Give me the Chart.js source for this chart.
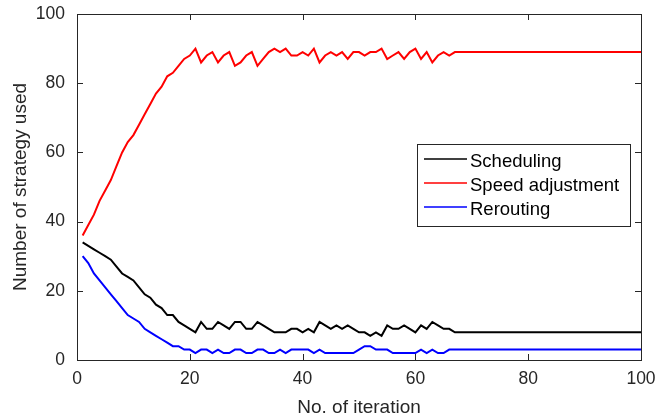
<!DOCTYPE html>
<html>
<head>
<meta charset="utf-8">
<script src="https://cdn.jsdelivr.net/npm/chart.js@4.4.1/dist/chart.umd.min.js"></script>
<style>
  html, body { margin: 0; padding: 0; background: #ffffff; }
  #wrap { width: 655px; height: 419px; position: relative; }
</style>
</head>
<body>
<div id="wrap"><canvas id="chart" width="655" height="419"></canvas></div>
<script>
// Strategy usage counts per iteration (iterations 1..100)
const seriesNames = ['Scheduling', 'Speed adjustment', 'Rerouting'];
const seriesColors = ['#000000', '#ff0000', '#0000ff'];

const scheduling = [
  34, 33, 32, 31, 30, 29, 27, 25, 24, 23,
  21, 19, 18, 16, 15, 13, 13, 11, 10, 9,
  8, 11, 9, 9, 11, 10, 9, 11, 11, 9,
  9, 11, 10, 9, 8, 8, 8, 9, 9, 8,
  9, 8, 11, 10, 9, 10, 9, 10, 9, 8,
  8, 7, 8, 7, 10, 9, 9, 10, 9, 8,
  10, 9, 11, 10, 9, 9, 8, 8, 8, 8,
  8, 8, 8, 8, 8, 8, 8, 8, 8, 8,
  8, 8, 8, 8, 8, 8, 8, 8, 8, 8,
  8, 8, 8, 8, 8, 8, 8, 8, 8, 8
];

const speedAdjustment = [
  36, 39, 42, 46, 49, 52, 56, 60, 63, 65,
  68, 71, 74, 77, 79, 82, 83, 85, 87, 88,
  90, 86, 88, 89, 86, 88, 89, 85, 86, 88,
  89, 85, 87, 89, 90, 89, 90, 88, 88, 89,
  88, 90, 86, 88, 89, 88, 89, 87, 89, 89,
  88, 89, 89, 90, 87, 88, 89, 87, 89, 90,
  87, 89, 86, 88, 89, 88, 89, 89, 89, 89,
  89, 89, 89, 89, 89, 89, 89, 89, 89, 89,
  89, 89, 89, 89, 89, 89, 89, 89, 89, 89,
  89, 89, 89, 89, 89, 89, 89, 89, 89, 89
];

const rerouting = [
  30, 28, 25, 23, 21, 19, 17, 15, 13, 12,
  11, 9, 8, 7, 6, 5, 4, 4, 3, 3,
  2, 3, 3, 2, 3, 2, 2, 3, 3, 2,
  2, 3, 3, 2, 2, 3, 2, 3, 3, 3,
  3, 2, 3, 2, 2, 2, 2, 2, 2, 3,
  4, 4, 3, 3, 3, 2, 2, 2, 2, 2,
  3, 2, 3, 2, 2, 3, 3, 3, 3, 3,
  3, 3, 3, 3, 3, 3, 3, 3, 3, 3,
  3, 3, 3, 3, 3, 3, 3, 3, 3, 3,
  3, 3, 3, 3, 3, 3, 3, 3, 3, 3
];

const iterations = scheduling.map((_, i) => i + 1);
const xTicks = [0, 20, 40, 60, 80, 100];
const yTicks = [0, 20, 40, 60, 80, 100];

const AXIS_COLOR = '#262626';
const FONT = '"Liberation Sans", Arial, sans-serif';

function toPoints(values) {
  return values.map((v, i) => ({ x: iterations[i], y: v }));
}

// Box around the plot area plus inward tick marks on all four sides
const boxAndTicks = {
  id: 'boxAndTicks',
  afterDatasetsDraw(chart) {
    const { ctx, chartArea: a, scales } = chart;
    ctx.save();
    ctx.strokeStyle = AXIS_COLOR;
    ctx.lineWidth = 1;
    ctx.strokeRect(Math.round(a.left) + 0.5, Math.round(a.top) + 0.5,
                   Math.round(a.right - a.left), Math.round(a.bottom - a.top));
    const len = 6;
    ctx.beginPath();
    xTicks.forEach(v => {
      const px = Math.round(scales.x.getPixelForValue(v)) + 0.5;
      ctx.moveTo(px, a.bottom); ctx.lineTo(px, a.bottom - len);
      ctx.moveTo(px, a.top); ctx.lineTo(px, a.top + len);
    });
    yTicks.forEach(v => {
      const py = Math.round(scales.y.getPixelForValue(v)) + 0.5;
      ctx.moveTo(a.left, py); ctx.lineTo(a.left + len, py);
      ctx.moveTo(a.right, py); ctx.lineTo(a.right - len, py);
    });
    ctx.stroke();
    ctx.restore();
  }
};

// Boxed legend inside the plot area
const boxedLegend = {
  id: 'boxedLegend',
  afterDraw(chart) {
    const { ctx } = chart;
    const x0 = 417, y0 = 144, w = 213, h = 82;
    const rowY = [161, 185, 209];
    ctx.save();
    ctx.fillStyle = '#ffffff';
    ctx.fillRect(x0, y0, w, h);
    ctx.strokeStyle = AXIS_COLOR;
    ctx.lineWidth = 1;
    ctx.strokeRect(x0 + 0.5, y0 + 0.5, w, h);
    ctx.font = '18.5px ' + FONT;
    ctx.textBaseline = 'middle';
    ctx.textAlign = 'left';
    chart.data.datasets.forEach((ds, i) => {
      const y = rowY[i];
      ctx.strokeStyle = ds.borderColor;
      ctx.lineWidth = 1.5;
      ctx.beginPath();
      ctx.moveTo(424, y - 2);
      ctx.lineTo(467, y - 2);
      ctx.stroke();
      ctx.fillStyle = '#000000';
      ctx.fillText(ds.label, 470, y + 1);
    });
    ctx.restore();
  }
};

new Chart(document.getElementById('chart'), {
  type: 'line',
  data: {
    datasets: [
      { label: seriesNames[0], data: toPoints(scheduling), borderColor: seriesColors[0] },
      { label: seriesNames[1], data: toPoints(speedAdjustment), borderColor: seriesColors[1] },
      { label: seriesNames[2], data: toPoints(rerouting), borderColor: seriesColors[2] }
    ].map(d => Object.assign(d, {
      borderWidth: 2,
      pointRadius: 0,
      tension: 0,
      fill: false
    }))
  },
  options: {
    responsive: false,
    animation: false,
    devicePixelRatio: 1,
    layout: { padding: { left: 0, right: 14, top: 14, bottom: 0 } },
    plugins: {
      legend: { display: false },
      tooltip: { enabled: false }
    },
    scales: {
      x: {
        type: 'linear',
        min: 0,
        max: 100,
        afterBuildTicks: s => { s.ticks = xTicks.map(v => ({ value: v })); },
        afterFit: s => { s.height = 59; s.paddingLeft = 0; s.paddingRight = 0; },
        grid: { display: false, drawTicks: false },
        border: { display: false },
        ticks: {
          padding: 9,
          color: AXIS_COLOR,
          maxRotation: 0,
          font: { family: FONT, size: 17.5 }
        },
        title: {
          display: true,
          text: 'No. of iteration',
          color: AXIS_COLOR,
          padding: { top: 0, bottom: 0 },
          font: { family: FONT, size: 19 }
        }
      },
      y: {
        type: 'linear',
        min: 0,
        max: 100,
        afterBuildTicks: s => { s.ticks = yTicks.map(v => ({ value: v })); },
        afterFit: s => { s.width = 77; s.paddingTop = 0; s.paddingBottom = 0; },
        grid: { display: false, drawTicks: false },
        border: { display: false },
        ticks: {
          padding: 12,
          color: AXIS_COLOR,
          font: { family: FONT, size: 17.5 }
        },
        title: {
          display: true,
          text: 'Number of strategy used',
          color: AXIS_COLOR,
          padding: { top: 9, bottom: 0 },
          font: { family: FONT, size: 19 }
        }
      }
    }
  },
  plugins: [boxAndTicks, boxedLegend]
});
</script>
</body>
</html>
